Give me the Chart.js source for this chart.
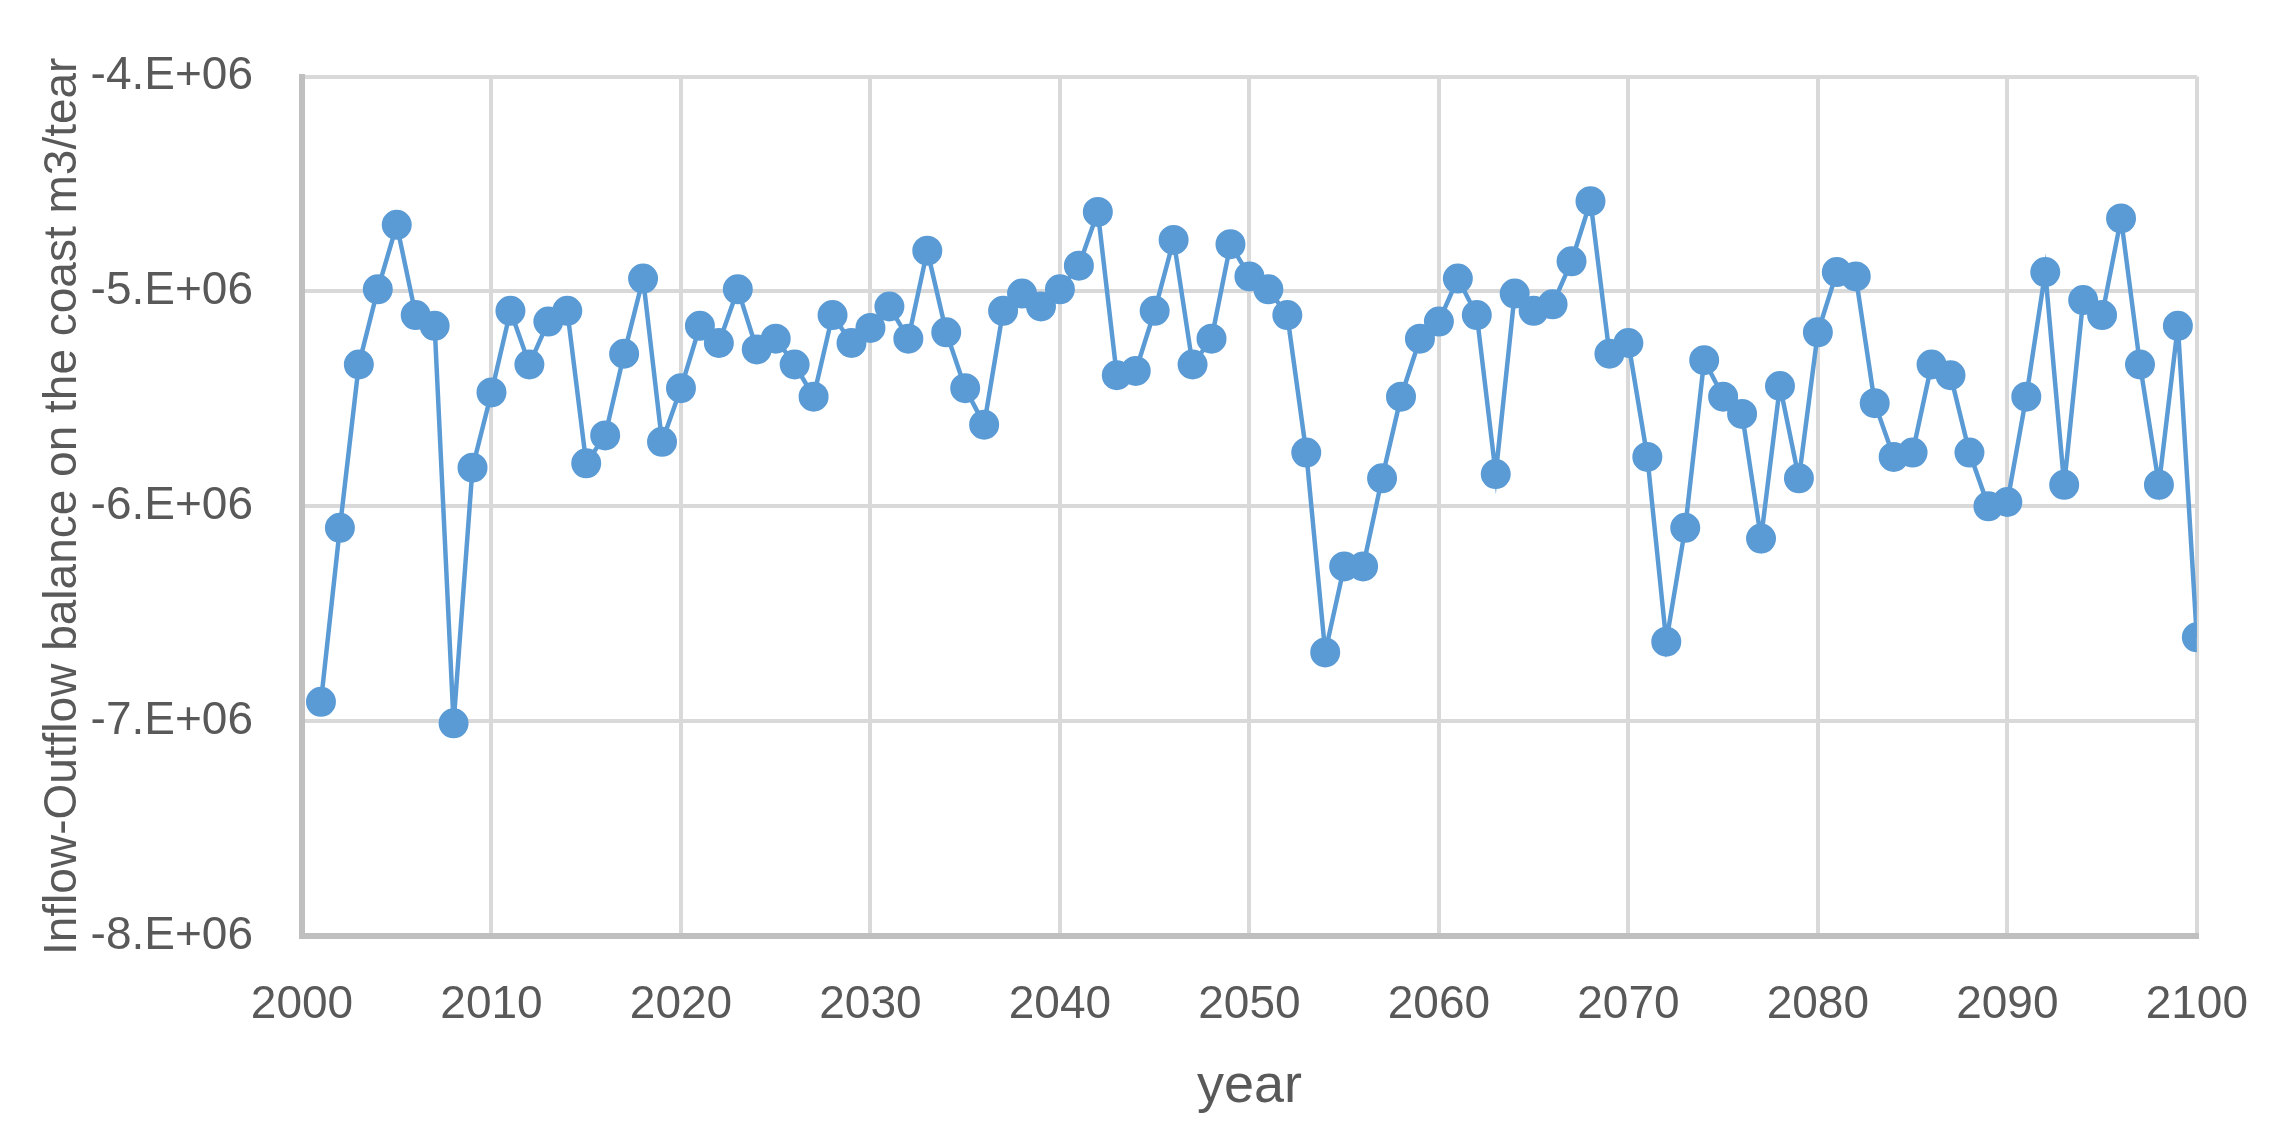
<!DOCTYPE html>
<html>
<head>
<meta charset="utf-8">
<script src="https://cdn.jsdelivr.net/npm/chart.js@4.4.1/dist/chart.umd.min.js"></script>
<style>
  html, body { margin: 0; padding: 0; background: #fff; }
  #wrap { width: 2290px; height: 1139px; }
</style>
</head>
<body>
<div id="wrap"><canvas id="chart"></canvas></div>
<script>
const years = [
  2001, 2002, 2003, 2004, 2005, 2006, 2007, 2008, 2009, 2010,
  2011, 2012, 2013, 2014, 2015, 2016, 2017, 2018, 2019, 2020,
  2021, 2022, 2023, 2024, 2025, 2026, 2027, 2028, 2029, 2030,
  2031, 2032, 2033, 2034, 2035, 2036, 2037, 2038, 2039, 2040,
  2041, 2042, 2043, 2044, 2045, 2046, 2047, 2048, 2049, 2050,
  2051, 2052, 2053, 2054, 2055, 2056, 2057, 2058, 2059, 2060,
  2061, 2062, 2063, 2064, 2065, 2066, 2067, 2068, 2069, 2070,
  2071, 2072, 2073, 2074, 2075, 2076, 2077, 2078, 2079, 2080,
  2081, 2082, 2083, 2084, 2085, 2086, 2087, 2088, 2089, 2090,
  2091, 2092, 2093, 2094, 2095, 2096, 2097, 2098, 2099, 2100
];

// inflow - outflow balance, m3/year
const balance = [
  -6.91e6, -6.10e6, -5.34e6, -4.99e6, -4.69e6, -5.11e6, -5.16e6, -7.01e6, -5.82e6, -5.47e6,
  -5.09e6, -5.34e6, -5.14e6, -5.09e6, -5.80e6, -5.67e6, -5.29e6, -4.94e6, -5.70e6, -5.45e6,
  -5.16e6, -5.24e6, -4.99e6, -5.27e6, -5.22e6, -5.34e6, -5.49e6, -5.11e6, -5.24e6, -5.17e6,
  -5.07e6, -5.22e6, -4.81e6, -5.19e6, -5.45e6, -5.62e6, -5.09e6, -5.01e6, -5.07e6, -4.99e6,
  -4.88e6, -4.63e6, -5.39e6, -5.37e6, -5.09e6, -4.76e6, -5.34e6, -5.22e6, -4.78e6, -4.93e6,
  -4.99e6, -5.11e6, -5.75e6, -6.68e6, -6.28e6, -6.28e6, -5.87e6, -5.49e6, -5.22e6, -5.14e6,
  -4.94e6, -5.11e6, -5.85e6, -5.01e6, -5.09e6, -5.06e6, -4.86e6, -4.58e6, -5.29e6, -5.24e6,
  -5.77e6, -6.63e6, -6.10e6, -5.32e6, -5.49e6, -5.57e6, -6.15e6, -5.44e6, -5.87e6, -5.19e6,
  -4.91e6, -4.93e6, -5.52e6, -5.77e6, -5.75e6, -5.34e6, -5.39e6, -5.75e6, -6.00e6, -5.98e6,
  -5.49e6, -4.91e6, -5.90e6, -5.04e6, -5.11e6, -4.66e6, -5.34e6, -5.90e6, -5.16e6, -6.61e6
];

const xTicks = [2000, 2010, 2020, 2030, 2040, 2050, 2060, 2070, 2080, 2090, 2100];
const yTicks = [-8e6, -7e6, -6e6, -5e6, -4e6];
const yTickLabels = ["-8.E+06", "-7.E+06", "-6.E+06", "-5.E+06", "-4.E+06"];

const textColor = "#595959";
const fontFamily = "'Liberation Sans', Arial, sans-serif";

const points = years.map((yr, i) => ({ x: yr, y: balance[i] }));

new Chart(document.getElementById("chart"), {
  type: "line",
  data: {
    datasets: [{
      data: points,
      borderColor: "#5b9bd5",
      backgroundColor: "#5b9bd5",
      borderWidth: 4.5,
      pointRadius: 14,
      pointBorderWidth: 2,
      pointBorderColor: "#5b9bd5",
      pointBackgroundColor: "#5b9bd5",
      tension: 0,
      fill: false
    }]
  },
  options: {
    responsive: true,
    maintainAspectRatio: false,
    animation: false,
    devicePixelRatio: 1,
    layout: { padding: { top: 71, right: 93, bottom: 0, left: 0 } },
    plugins: {
      legend: { display: false },
      tooltip: { enabled: false }
    },
    scales: {
      x: {
        type: "linear",
        min: xTicks[0],
        max: xTicks[xTicks.length - 1],
        afterBuildTicks: scale => { scale.ticks = xTicks.map(v => ({ value: v })); },
        afterFit: scale => { scale.height = 203; },
        grid: { color: "#d9d9d9", lineWidth: 4, drawTicks: false },
        border: { color: "#bfbfbf", width: 6 },
        ticks: {
          color: textColor,
          padding: 42,
          maxRotation: 0,
          font: { family: fontFamily, size: 46 },
          callback: v => String(v)
        },
        title: {
          display: true,
          text: "year",
          color: textColor,
          font: { family: fontFamily, size: 54 },
          padding: { top: 0, bottom: 19 }
        }
      },
      y: {
        min: yTicks[0],
        max: yTicks[yTicks.length - 1],
        afterBuildTicks: scale => { scale.ticks = yTicks.map(v => ({ value: v })); },
        afterFit: scale => { scale.width = 302; },
        grid: { color: "#d9d9d9", lineWidth: 4, drawTicks: false },
        border: { color: "#bfbfbf", width: 6 },
        ticks: {
          color: textColor,
          padding: 49,
          font: { family: fontFamily, size: 46 },
          callback: v => yTickLabels[yTicks.indexOf(v)]
        },
        title: {
          display: true,
          text: "Inflow-Outflow balance on the coast m3/tear",
          color: textColor,
          font: { family: fontFamily, size: 46 },
          padding: { top: 36, bottom: 0 }
        }
      }
    }
  }
});
</script>
</body>
</html>
